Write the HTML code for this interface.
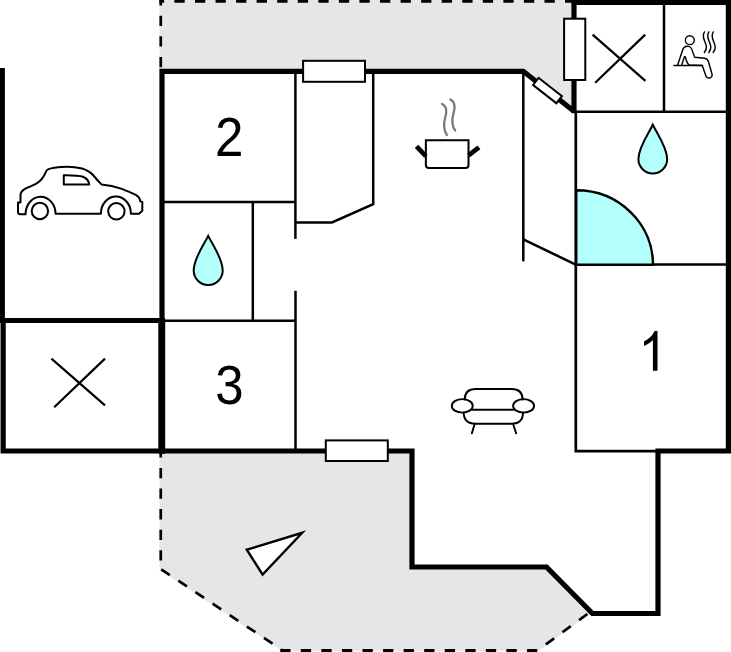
<!DOCTYPE html>
<html>
<head>
<meta charset="utf-8">
<title>Floor plan</title>
<style>
  html, body { margin: 0; padding: 0; background: #ffffff; }
  body { width: 731px; height: 652px; overflow: hidden; font-family: "Liberation Sans", sans-serif; }
  svg { display: block; }
  text { font-family: "Liberation Sans", sans-serif; fill: #000; }
</style>
</head>
<body>
<svg width="731" height="652" viewBox="0 0 731 652">
  <rect x="0" y="0" width="731" height="652" fill="#ffffff"/>

  <!-- grey terrace areas -->
  <g id="terraces" fill="#e6e6e6" stroke="none">
    <polygon points="159.5,0 574,0 574,111 523,71 159.5,71"/>
    <polygon points="159.5,451 412,451 412,567 546,567 591,613 538,651 282,651 159.5,569.5"/>
  </g>

  <!-- dashed outlines -->
  <g id="dashes" fill="none" stroke="#000" stroke-width="2.7" stroke-dasharray="10.3 10.3">
    <path d="M160.75 -4.9 L160.75 68"/>
    <path d="M160.75 447.3 L160.75 566"/>
    <path d="M161.2 569.3 L282.6 650.4"/>
    <path d="M587.4 614 L537.5 650.5"/>
  </g>
  <g fill="none" stroke="#000" stroke-width="4" stroke-dasharray="10.3 10.26">
    <path d="M159.4 0.7 L572 0.7" stroke-dashoffset="5.56"/>
    <path d="M280.25 651 L538 651"/>
  </g>

  <!-- thick outer walls -->
  <g id="walls" fill="none" stroke="#000" stroke-width="5.2" stroke-linejoin="miter" stroke-linecap="butt">
    <path d="M2.3 68 L2.3 321"/>
    <path d="M3.15 318.1 L3.15 451 L162 451"/>
    <path d="M0 320.5 L162 320.5" stroke-width="4.8"/>
    <path d="M161.75 318.1 L161.75 453.6" stroke-width="6.9"/>
    <path d="M162 453.6 L162 71.3 L523.3 71.3 L574.6 111.8"/>
    <path d="M574 113 L574 2.3 L728.4 2.3 L728.4 451 L658 451 L658 613.5 L592.5 613.5 L546.5 567 L412 567 L412 451 L160 451"/>
  </g>

  <!-- thin interior lines -->
  <g id="inner" fill="none" stroke="#000" stroke-width="2.5" stroke-linecap="butt">
    <path d="M164 202 L295.3 202"/>
    <path d="M252.8 202 L252.8 320.7"/>
    <path d="M164 320.7 L295.5 320.7"/>
    <path d="M295.4 73 L295.4 238.9"/>
    <path d="M295.5 290.8 L295.5 449"/>
    <path d="M295.3 222.4 L332 222.4 L373.2 204.2 L373.2 73"/>
    <path d="M523.3 73 L523.3 261.4"/>
    <path d="M523.3 239.3 L575.7 264.6"/>
    <path d="M664 4 L664 111.8"/>
    <path d="M574 111.8 L727 111.8"/>
  </g>
  <g fill="none" stroke="#000" stroke-width="2.7">
    <path d="M575.8 111 L575.8 451.2 L657 451.2"/>
    <path d="M576 264.5 L727 264.5"/>
  </g>

  <!-- shower quarter circle -->
  <path d="M576.2 264.7 L576.2 190.3 A76.8 74.4 0 0 1 653 264.7 Z" fill="#b2fffc" stroke="#000" stroke-width="2.5"/>

  <!-- windows -->
  <g fill="#fff" stroke="#000" stroke-width="2">
    <rect x="303.1" y="60.8" width="61.9" height="21"/>
    <rect x="325.8" y="440.4" width="62" height="20.6"/>
    <rect x="564.1" y="18.7" width="21.2" height="61.3"/>
    <rect x="-14.8" y="-4.5" width="29.6" height="9" transform="translate(547.5,90.6) rotate(38)"/>
  </g>

  <!-- X marks -->
  <g fill="none" stroke="#000" stroke-width="2.2">
    <path d="M592.6 34.6 L645.4 80.9 M645.2 34.6 L595.2 82.8"/>
    <path d="M51.4 358.6 L105 405.4 M105 358.6 L54.2 407.2"/>
  </g>

  <!-- triangle (view direction) -->
  <polygon points="246.8,549.7 302.2,532.8 262.6,574.6" fill="#fff" stroke="#000" stroke-width="2.4"/>

  <!-- water drops -->
  <g fill="#b2fffc" stroke="#000" stroke-width="2" stroke-linejoin="miter">
    <path d="M208.2 235.9 C203.9 244.7 193.7 258.4 193.7 270.5 A14.5 14.5 0 0 0 222.7 270.5 C222.7 258.4 212.5 244.7 208.2 235.9 Z"/>
    <path d="M652.8 124.8 C648.5 133.6 638.4 147.3 638.4 159.1 A14.4 14.4 0 0 0 667.2 159.1 C667.2 147.3 657.1 133.6 652.8 124.8 Z"/>
  </g>

  <!-- room numbers -->
  <text transform="translate(229.25,155.8) scale(0.93,1)" font-size="55" text-anchor="middle">2</text>
  <text transform="translate(229.3,404) scale(0.925,1.005)" font-size="55" text-anchor="middle">3</text>
  <path d="M657.5 370.65 L652.9 370.65 L652.9 340 C650.8 342.2 647.5 344.4 644 345.9 L644 341.5 C648.6 339.3 652.7 335.4 654.5 331 L657.5 331 Z" fill="#000"/>

  <!-- car -->
  <g fill="none" stroke="#000" stroke-width="2" stroke-linejoin="round" stroke-linecap="round">
    <path d="M18 202.4 L18 212 Q18 214.3 20.5 214.3 L25.6 214.3 A15 17.3 0 0 1 55.6 213.8 L100.9 213.8 A15 17.4 0 0 1 130.9 213.8 L139 213.8 L142.3 210.8 L142.3 201.9 L140.3 201.4 C140 198.5 139.5 197 135.8 194.9 C131 192.8 126 190.5 121.9 188.9 C115 186.5 108 185 101.4 184.4 C98 181 95.5 178 93 175 C90 171.8 87 169.9 82 168.5 C76 167.1 68 166.6 62 167 C56 167.4 51 168.3 48.5 169.1 C47 169.6 46.5 170.3 46 171.6 C44.5 175.5 41 181 35.9 183.9 C31 186.5 27 187.7 25 188.9 C22 190.8 20.5 192.5 20.5 194.9 L20.5 202.4 Z"/>
    <circle cx="39.9" cy="211" r="8.2"/>
    <circle cx="116.4" cy="211.3" r="8.2"/>
    <path d="M63.8 175.2 L63.8 184.6 L89.3 184.6 C88.8 181 86.5 178.2 83 176.8 C78 175 70 175.2 63.8 175.2 Z"/>
  </g>

  <!-- cooking pot -->
  <g transform="translate(405,90) scale(0.13043)" fill="none" stroke="#000">
    <path d="M160 385 L487 385 L487 575 Q487 598 464 598 L183 598 Q160 598 160 575 Z" stroke-width="15.5" fill="#fff"/>
    <path d="M88 432 L160 507 M487 502 L567 440" stroke-width="36"/>
  </g>
  <g transform="translate(430,95) scale(0.069)" fill="none" stroke="#7a7a7a" stroke-width="33" stroke-linecap="round">
    <path d="M175 130 C215 150 240 190 235 250 C230 320 195 380 205 460 C210 510 225 550 245 580"/>
    <path d="M295 65 C335 85 360 130 355 190 C350 260 315 320 325 400 C330 450 345 490 365 515"/>
  </g>

  <!-- sauna -->
  <g transform="translate(668,25) scale(0.09202)" fill="none" stroke="#000" stroke-width="15.5" stroke-linecap="round" stroke-linejoin="round">
    <circle cx="237" cy="165" r="48"/>
    <path d="M105 435 L160 270 C172 235 200 228 225 232 C255 238 262 265 270 295 L290 350 L400 362 C425 366 435 385 440 400 L480 540 C482 575 445 590 415 562 L372 440 L232 435 C205 420 198 385 188 345 C182 340 178 345 176 352 L150 432"/>
    <path d="M65 440 L375 440"/>
    <path d="M397 75 C340 150 467 215 395 298"/>
    <path d="M445 75 C388 150 515 215 443 298"/>
    <path d="M493 75 C436 150 563 215 491 298"/>
  </g>

  <!-- sofa -->
  <g transform="translate(440,375) scale(0.14364)" fill="none" stroke="#000" stroke-width="13.5" stroke-linecap="round">
    <path d="M172 170 Q172 97 250 97 L497 97 Q575 97 575 170"/>
    <ellipse cx="155" cy="215" rx="73" ry="47"/>
    <ellipse cx="582" cy="215" rx="73" ry="47"/>
    <path d="M226 242 L510 242"/>
    <path d="M165 260 Q165 340 247 340 L498 340 Q578 340 578 260"/>
    <path d="M240 345 L222 406 M510 345 L530 406"/>
  </g>
</svg>
</body>
</html>
